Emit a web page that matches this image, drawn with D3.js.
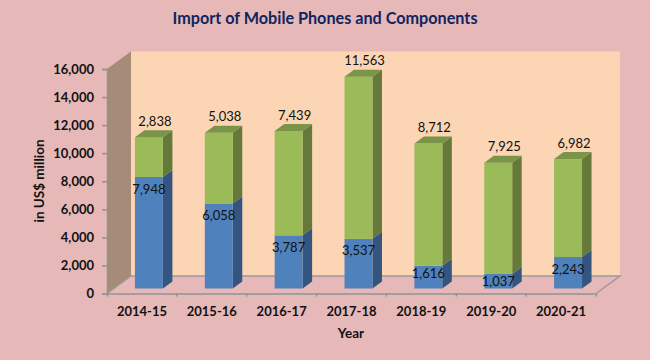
<!DOCTYPE html>
<html>
<head>
<meta charset="utf-8">
<script src="https://cdn.jsdelivr.net/npm/d3@7"></script>
<style>
  html, body { margin: 0; padding: 0; background: #E6B8B7; }
  svg { display: block; }
  text { font-family: Lato, "Open Sans", sans-serif; fill: #111; }
  .axis text { font-weight: 700; font-size: 13px; }
  .axis path, .axis line { stroke: #8E9499; stroke-width: 1.5px; }
</style>
</head>
<body>
<div id="chart"></div>
<script>
const years = ["2014-15", "2015-16", "2016-17", "2017-18", "2018-19", "2019-20", "2020-21"];
const mobilePhones = [7948, 6058, 3787, 3537, 1616, 1037, 2243];
const components = [2838, 5038, 7439, 11563, 8712, 7925, 6982];
const yTicks = [0, 2000, 4000, 6000, 8000, 10000, 12000, 14000, 16000];

const drawChart = () => {

  // DIMENSIONS
  const width = 650;
  const height = 360;
  const margin = {top: 69, right: 54, bottom: 66.5, left: 107};
  const wallDepth = {x: 24, y: -17.5}; // 3d wall offset
  const barDepth = {x: 9.5, y: -7};
  const barShift = {x: 7, y: -5}; // bars stand a little behind the front edge

  const svg = d3.select("#chart")
    .append("svg")
      .attr("width", width)
      .attr("height", height);

  // SCALES
  const xScale = d3.scaleBand()
    .domain(years)
    .range([margin.left, width - margin.right])
    .paddingInner(0)
    .paddingOuter(0);
  const yScale = d3.scaleLinear()
    .domain([0, 16000])
    .range([height - margin.bottom, margin.top]);
  const barWidth = xScale.bandwidth() * 0.4;

  const x0 = xScale.range()[0];
  const x1 = xScale.range()[1];
  const y0 = yScale(0);
  const yTop = yScale(16000);

  // WALLS
  svg.append("polygon")
    .attr("points", [[x0 + wallDepth.x, y0 + wallDepth.y], [x1 + wallDepth.x, y0 + wallDepth.y],
      [x1 + wallDepth.x, yTop + wallDepth.y], [x0 + wallDepth.x, yTop + wallDepth.y]].join(" "))
    .attr("fill", "#FCD5B5");
  svg.append("polygon")
    .attr("points", [[x0, y0], [x0 + wallDepth.x, y0 + wallDepth.y],
      [x0 + wallDepth.x, yTop + wallDepth.y], [x0, yTop]].join(" "))
    .attr("fill", "#A58B78");
  svg.append("polyline")
    .attr("points", [[x0, y0], [x0 + wallDepth.x, y0 + wallDepth.y], [x1 + wallDepth.x, y0 + wallDepth.y], [x1, y0]].join(" "))
    .attr("fill", "none")
    .attr("stroke", "#9A9A9A")
    .attr("stroke-width", 1.5);

  // AXES
  svg.append("g")
    .attr("class", "axis")
    .attr("transform", `translate(${x0}, 0)`)
    .call(d3.axisLeft(yScale).tickValues(yTicks).tickFormat(d3.format(",")).tickSize(5).tickPadding(8));

  const xAxis = d3.axisBottom(xScale).tickSize(0).tickPadding(13).tickSizeOuter(3);
  const xAxisG = svg.append("g")
    .attr("class", "axis")
    .attr("transform", `translate(0, ${y0})`)
    .call(xAxis);
  // ticks sit between the categories
  xAxisG.selectAll(".tick-sep")
    .data(years.slice(1))
    .join("line")
      .attr("class", "tick-sep")
      .attr("x1", d => xScale(d))
      .attr("x2", d => xScale(d))
      .attr("y1", 0)
      .attr("y2", 3);

  // BARS
  const stacked = years.map((year, i) => ({
    year,
    segments: [
      {start: 0, end: mobilePhones[i], value: mobilePhones[i], front: "#4F81BD", side: "#34557F", top: "#41699A"},
      {start: mobilePhones[i], end: mobilePhones[i] + components[i], value: components[i], front: "#9BBB59", side: "#64793A", top: "#7A9448"}
    ]
  }));

  const barLeft = d => xScale(d.year) + (xScale.bandwidth() - barWidth) / 2 + barShift.x;
  const barY = v => yScale(v) + barShift.y;

  const bars = svg.selectAll(".bar")
    .data(stacked)
    .join("g")
      .attr("class", "bar");

  bars.each(function(d) {
    const g = d3.select(this);
    const left = barLeft(d);
    d.segments.forEach((s, i) => {
      const yA = barY(s.start);
      const yB = barY(s.end);
      g.append("polygon")
        .attr("points", [[left + barWidth, yA], [left + barWidth + barDepth.x, yA + barDepth.y],
          [left + barWidth + barDepth.x, yB + barDepth.y], [left + barWidth, yB]].join(" "))
        .attr("fill", s.side);
      g.append("rect")
        .attr("x", left)
        .attr("y", yB)
        .attr("width", barWidth)
        .attr("height", yA - yB)
        .attr("fill", s.front);
      if (i === 1) {
        g.append("polygon")
          .attr("points", [[left, yB], [left + barDepth.x, yB + barDepth.y],
            [left + barWidth + barDepth.x, yB + barDepth.y], [left + barWidth, yB]].join(" "))
          .attr("fill", s.top);
      }
    });
  });

  // VALUE LABELS
  const labels = svg.append("g");
  stacked.forEach(d => {
    const cx = barLeft(d) + barWidth / 2;
    const [blue, green] = d.segments;
    const blueHeight = barY(blue.start) - barY(blue.end);
    labels.append("text")
      .attr("class", "value-label")
      .attr("x", cx)
      .attr("y", barY(blue.end) + (blueHeight < 30 ? 8 : 12))
      .attr("dy", "0.35em")
      .attr("text-anchor", "middle")
      .attr("font-size", 13)
      .text(d3.format(",")(blue.value));
    labels.append("text")
      .attr("class", "value-label")
      .attr("x", cx + 6)
      .attr("y", barY(green.end) - 16)
      .attr("dy", "0.35em")
      .attr("text-anchor", "middle")
      .attr("font-size", 13)
      .text(d3.format(",")(green.value));
  });

  // TITLES
  svg.append("text")
    .attr("x", 325)
    .attr("y", 24)
    .attr("text-anchor", "middle")
    .attr("font-size", 16.2)
    .attr("font-weight", 700)
    .style("fill", "#10255F")
    .text("Import of Mobile Phones and Components");

  svg.append("text")
    .attr("x", 351)
    .attr("y", 338)
    .attr("text-anchor", "middle")
    .attr("font-size", 13.5)
    .attr("font-weight", 700)
    .text("Year");

  svg.append("text")
    .attr("transform", "translate(44, 181) rotate(-90)")
    .attr("text-anchor", "middle")
    .attr("font-size", 13.5)
    .attr("font-weight", 700)
    .text("in US$ million");
};

drawChart();
</script>
</body>
</html>
